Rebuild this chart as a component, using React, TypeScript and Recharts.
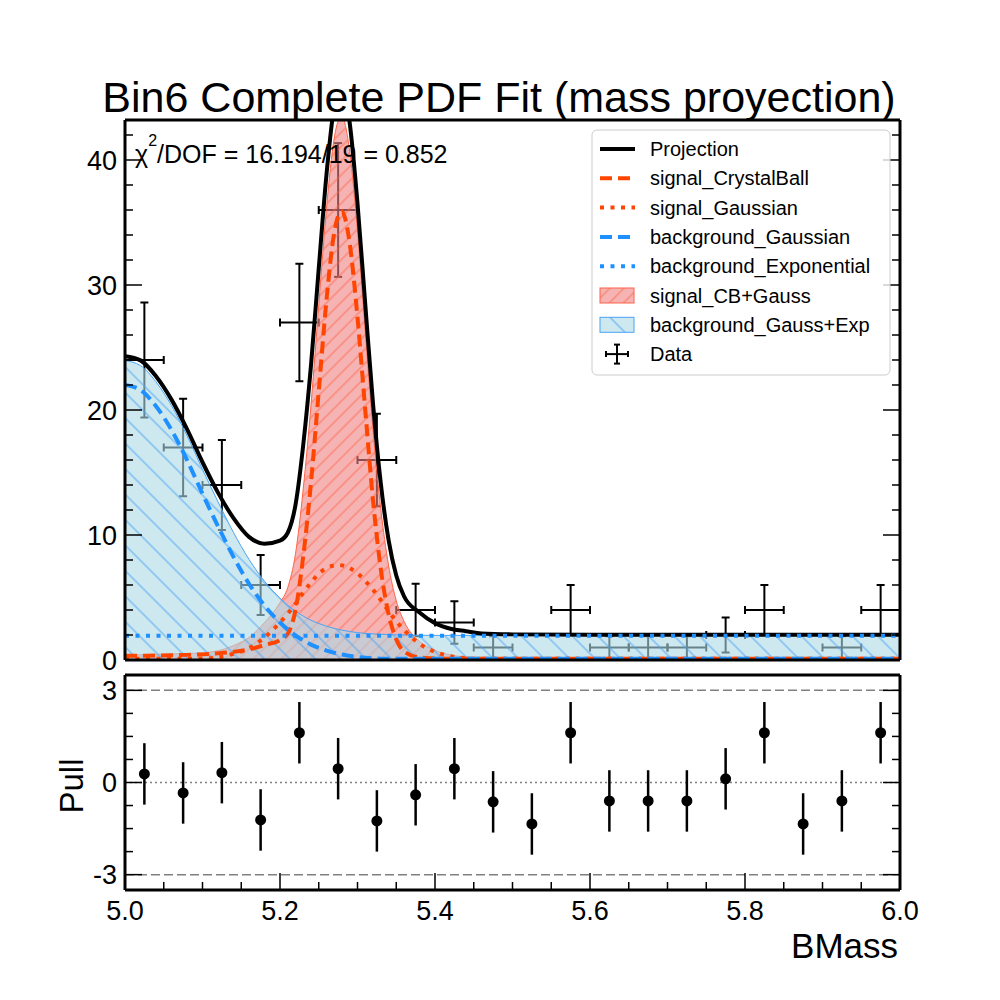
import React from 'react';
import { ComposedChart, Line, Area, Scatter, XAxis, YAxis, ErrorBar, ReferenceLine } from 'recharts';

// sampled curves of the fit (BMass grid)
const massGrid = [
  5.0, 5.02, 5.04, 5.06, 5.08, 5.1, 5.12, 5.14, 5.16, 5.18, 5.2, 5.21, 5.22, 5.23, 5.24, 5.25, 5.26, 5.27, 5.275, 5.28,
  5.285, 5.29, 5.3, 5.31, 5.32, 5.33, 5.34, 5.35, 5.36, 5.38, 5.4, 5.42, 5.44, 5.46, 5.5, 5.6, 5.7, 5.8, 5.9, 6.0,
];
const projection = [
  24.3, 23.97, 22.7, 20.83, 18.47, 15.82, 13.39, 11.35, 9.85, 9.3, 9.55, 10.18, 12.41, 17.21, 23.58, 31.32, 38.85, 44.3, 45.55, 45.86,
  44.92, 42.93, 36.52, 28.46, 20.52, 14.16, 9.63, 6.76, 5.1, 3.8, 2.95, 2.5, 2.3, 2.12, 2.05, 2.02, 2.02, 2.02, 2.02, 2.02,
];
const signalCrystalBall = [
  0.33, 0.34, 0.36, 0.38, 0.41, 0.45, 0.53, 0.65, 0.85, 1.2, 1.6, 2.1, 4.0, 8.3, 14.2, 21.5, 28.8, 34.2, 35.5, 35.9,
  35.1, 33.3, 27.4, 20.0, 12.8, 7.3, 3.7, 1.65, 0.7, 0.2, 0.12, 0.1, 0.1, 0.1, 0.1, 0.1, 0.1, 0.1, 0.1, 0.1,
];
const signalGaussian = [
  0.1, 0.1, 0.1, 0.1, 0.1, 0.12, 0.21, 0.5, 0.95, 1.8, 3.0, 3.7, 4.5, 5.4, 6.2, 6.9, 7.35, 7.57, 7.6, 7.57,
  7.49, 7.35, 6.93, 6.33, 5.63, 4.8, 3.9, 3.1, 2.4, 1.3, 0.65, 0.3, 0.15, 0.1, 0.1, 0.1, 0.1, 0.1, 0.1, 0.1,
];
const backgroundGaussian = [
  22.0, 21.6, 20.3, 18.4, 16.0, 13.3, 10.7, 8.25, 6.1, 4.35, 3.0, 2.43, 1.96, 1.56, 1.23, 0.97, 0.75, 0.58, 0.5, 0.44,
  0.38, 0.33, 0.24, 0.18, 0.14, 0.11, 0.1, 0.1, 0.1, 0.1, 0.1, 0.1, 0.1, 0.1, 0.1, 0.1, 0.1, 0.1, 0.1, 0.1,
];
const backgroundExponential = [
  1.95, 1.95, 1.95, 1.95, 1.95, 1.95, 1.95, 1.95, 1.95, 1.95, 1.95, 1.95, 1.95, 1.95, 1.95, 1.95, 1.95, 1.95, 1.95, 1.95,
  1.95, 1.95, 1.95, 1.95, 1.95, 1.95, 1.95, 1.95, 1.95, 1.95, 1.95, 1.95, 1.95, 1.95, 1.95, 1.95, 1.95, 1.95, 1.95, 1.95,
];
const signalSum = [
  0.4, 0.42, 0.45, 0.48, 0.52, 0.57, 0.74, 1.15, 1.8, 3.0, 4.6, 5.8, 8.5, 13.7, 20.4, 28.4, 36.15, 41.77, 43.1, 43.47,
  42.59, 40.65, 34.33, 26.33, 18.43, 12.1, 7.6, 4.75, 3.1, 1.5, 0.77, 0.4, 0.25, 0.2, 0.2, 0.2, 0.2, 0.2, 0.2, 0.2,
];
const backgroundSum = [
  23.95, 23.55, 22.25, 20.35, 17.95, 15.25, 12.65, 10.2, 8.05, 6.3, 4.95, 4.38, 3.91, 3.51, 3.18, 2.92, 2.7, 2.53, 2.45, 2.39,
  2.33, 2.28, 2.19, 2.13, 2.09, 2.06, 2.03, 2.01, 2.0, 1.98, 1.97, 1.97, 1.97, 1.97, 1.97, 1.97, 1.97, 1.97, 1.97, 1.97,
];

// histogram bins (width 0.05)
const binCenters = [
  5.025, 5.075, 5.125, 5.175, 5.225, 5.275, 5.325, 5.375, 5.425, 5.475,
  5.525, 5.575, 5.625, 5.675, 5.725, 5.775, 5.825, 5.875, 5.925, 5.975,
];
const binCounts = [24, 17, 14, 6, 27, 36, 16, 4, 3, 1, 0, 4, 1, 1, 1, 2, 4, 0, 1, 4];
const binErrors = [4.6, 3.9, 3.6, 2.4, 4.7, 5.35, 3.7, 2.1, 1.7, 0.9, 0, 2.0, 0.9, 0.9, 0.9, 1.4, 2.0, 0, 0.9, 2.0];
const binHalfWidth = 0.025;
const pullValues = [
  0.28, -0.34, 0.32, -1.22, 1.62, 0.45, -1.25, -0.4, 0.45, -0.63,
  -1.35, 1.62, -0.6, -0.6, -0.6, 0.12, 1.62, -1.35, -0.6, 1.62,
];
const pullErrors = [1, 1, 1, 1, 1, 1, 1, 1, 1, 1, 1, 1, 1, 1, 1, 1, 1, 1, 1, 1];

const yTicksTop = [0, 2, 4, 6, 8, 10, 12, 14, 16, 18, 20, 22, 24, 26, 28, 30, 32, 34, 36, 38, 40, 42];
const yTicksPull = [-3, -2.25, -1.5, -0.75, 0, 0.75, 1.5, 2.25, 3];
const xTicks = [
  5.0, 5.05, 5.1, 5.15, 5.2, 5.25, 5.3, 5.35, 5.4, 5.45, 5.5,
  5.55, 5.6, 5.65, 5.7, 5.75, 5.8, 5.85, 5.9, 5.95, 6.0,
];

const legendItems = [
  'Projection',
  'signal_CrystalBall',
  'signal_Gaussian',
  'background_Gaussian',
  'background_Exponential',
  'signal_CB+Gauss',
  'background_Gauss+Exp',
  'Data',
];

const FONT = '"Liberation Sans", Arial, Helvetica, sans-serif';
const RED = '#ff4500';
const BLUE = '#1e90ff';
const DASH = '12 6';
const DOT = '4 6.5';

const curveTable = massGrid.map((m, i) => ({
  m,
  proj: projection[i],
  cb: signalCrystalBall[i],
  sg: signalGaussian[i],
  bg: backgroundGaussian[i],
  be: backgroundExponential[i],
  sig: signalSum[i],
  bkg: backgroundSum[i],
}));

const dataPoints = binCenters
  .map((m, i) => ({ m, n: binCounts[i], err: binErrors[i], xerr: binHalfWidth }))
  .filter((p) => p.n > 0);

const pullPoints = binCenters.map((m, i) => ({ m, pull: pullValues[i], err: pullErrors[i] }));

const isMajor = (v: number, step: number) => Math.abs(v / step - Math.round(v / step)) < 1e-6;

const LeftTick = (props: any) => {
  const { x, y, payload, step } = props;
  const major = isMajor(payload.value, step);
  return (
    <g>
      <line x1={x} y1={y} x2={x + (major ? 17 : 8)} y2={y} stroke="#000" strokeWidth={1.5} />
      {major && (
        <text x={x - 8} y={y} dy="0.36em" textAnchor="end" fontSize={27} fontFamily={FONT} fill="#000">
          {payload.value}
        </text>
      )}
    </g>
  );
};

const RightTick = (props: any) => {
  const { x, y, payload, step } = props;
  const major = isMajor(payload.value, step);
  return <line x1={x} y1={y} x2={x - (major ? 17 : 8)} y2={y} stroke="#000" strokeWidth={1.5} />;
};

const BottomTick = (props: any) => {
  const { x, y, payload } = props;
  const major = isMajor(payload.value, 0.2);
  return (
    <g>
      <line x1={x} y1={y} x2={x} y2={y - (major ? 17 : 8)} stroke="#000" strokeWidth={1.5} />
      {major && (
        <text x={x} y={y + 30} textAnchor="middle" fontSize={27} fontFamily={FONT} fill="#000">
          {payload.value.toFixed(1)}
        </text>
      )}
    </g>
  );
};

const TopTick = (props: any) => {
  const { x, y, payload } = props;
  const major = isMajor(payload.value, 0.2);
  return <line x1={x} y1={y} x2={x} y2={y + (major ? 17 : 8)} stroke="#000" strokeWidth={1.5} />;
};

const frame = { stroke: '#000', strokeWidth: 3 };

const Hatches = ({ prefix }: { prefix: string }) => (
  <defs>
    <pattern id={`${prefix}Sig`} patternUnits="userSpaceOnUse" width={10} height={10} patternTransform="rotate(45)">
      <rect width={10} height={10} fill="#f08080" fillOpacity={0.6} />
      <line x1={5} y1={0} x2={5} y2={10} stroke="#ff6347" strokeWidth={1.1} strokeOpacity={0.75} />
    </pattern>
    <pattern id={`${prefix}Bkg`} patternUnits="userSpaceOnUse" width={18} height={18} patternTransform="rotate(-45)">
      <rect width={18} height={18} fill="#add8e6" fillOpacity={0.6} />
      <line x1={9} y1={0} x2={9} y2={18} stroke="#4aa3f5" strokeWidth={1.1} strokeOpacity={0.85} />
    </pattern>
  </defs>
);

const LegendSample = ({ index, y }: { index: number; y: number }) => {
  const x1 = 600;
  const x2 = 635;
  if (index === 0) return <line x1={x1} y1={y} x2={x2} y2={y} stroke="#000" strokeWidth={4} />;
  if (index === 1) return <line x1={x1} y1={y} x2={x2} y2={y} stroke={RED} strokeWidth={4} strokeDasharray={DASH} />;
  if (index === 2) return <line x1={x1} y1={y} x2={x2} y2={y} stroke={RED} strokeWidth={4} strokeDasharray={DOT} />;
  if (index === 3) return <line x1={x1} y1={y} x2={x2} y2={y} stroke={BLUE} strokeWidth={4} strokeDasharray={DASH} />;
  if (index === 4) return <line x1={x1} y1={y} x2={x2} y2={y} stroke={BLUE} strokeWidth={4} strokeDasharray={DOT} />;
  if (index === 5)
    return <rect x={x1} y={y - 7.5} width={34} height={15} fill="url(#legSig)" stroke="#ff6347" strokeWidth={1} />;
  if (index === 6)
    return <rect x={x1} y={y - 7.5} width={34} height={15} fill="url(#legBkg)" stroke="#4aa3f5" strokeWidth={1} />;
  return (
    <g stroke="#000" strokeWidth={2}>
      <line x1={606} y1={y} x2={628} y2={y} />
      <line x1={617} y1={y - 9.5} x2={617} y2={y + 9.5} />
      <line x1={606} y1={y - 3} x2={606} y2={y + 3} />
      <line x1={628} y1={y - 3} x2={628} y2={y + 3} />
      <line x1={614} y1={y - 9.5} x2={620} y2={y - 9.5} />
      <line x1={614} y1={y + 9.5} x2={620} y2={y + 9.5} />
    </g>
  );
};

export default function App() {
  return (
    <div style={{ position: 'absolute', left: 0, top: 0, width: 1000, height: 1000, background: '#fff', fontFamily: FONT }}>
      {/* main fit panel */}
      <div style={{ position: 'absolute', left: 0, top: 0 }}>
        <ComposedChart width={1000} height={680} data={curveTable} margin={{ top: 119, right: 99, bottom: 19, left: 124 }}>
          <Hatches prefix="fit" />
          <XAxis xAxisId="x" dataKey="m" type="number" domain={[5, 6]} allowDataOverflow height={1} tick={false} tickLine={false} axisLine={frame} />
          <XAxis xAxisId="xt" orientation="top" type="number" domain={[5, 6]} allowDataOverflow height={1} tick={false} tickLine={false} axisLine={frame} />
          <YAxis
            yAxisId="y"
            dataKey="n"
            type="number"
            domain={[0, 43.2]}
            allowDataOverflow
            width={1}
            ticks={yTicksTop}
            interval={0}
            tickSize={0}
            tickMargin={0}
            tickLine={false}
            axisLine={frame}
            tick={<LeftTick step={10} />}
          />
          <YAxis
            yAxisId="yr"
            orientation="right"
            type="number"
            domain={[0, 43.2]}
            allowDataOverflow
            width={1}
            ticks={yTicksTop}
            interval={0}
            tickSize={0}
            tickMargin={0}
            tickLine={false}
            axisLine={frame}
            tick={<RightTick step={10} />}
          />
          <Scatter
            xAxisId="x"
            yAxisId="y"
            data={dataPoints}
            dataKey="n"
            shape={() => <g />}
            isAnimationActive={false}
            zIndex={50}
          >
            <ErrorBar dataKey="err" direction="y" width={4} stroke="#000" strokeWidth={2} zIndex={50} />
            <ErrorBar dataKey="xerr" direction="x" width={4} stroke="#000" strokeWidth={2} zIndex={50} />
          </Scatter>
          <Area xAxisId="x" yAxisId="y" dataKey="sig" type="monotone" fill="url(#fitSig)" fillOpacity={1} stroke="#ff6347" strokeWidth={1} isAnimationActive={false} />
          <Area xAxisId="x" yAxisId="y" dataKey="bkg" type="monotone" fill="url(#fitBkg)" fillOpacity={1} stroke="#4aa3f5" strokeWidth={1} isAnimationActive={false} />
          <Line xAxisId="x" yAxisId="y" dataKey="proj" type="monotone" stroke="#000" strokeWidth={4} dot={false} isAnimationActive={false} />
          <Line xAxisId="x" yAxisId="y" dataKey="cb" type="monotone" stroke={RED} strokeWidth={4} strokeDasharray={DASH} dot={false} isAnimationActive={false} />
          <Line xAxisId="x" yAxisId="y" dataKey="sg" type="monotone" stroke={RED} strokeWidth={4} strokeDasharray={DOT} dot={false} isAnimationActive={false} />
          <Line xAxisId="x" yAxisId="y" dataKey="bg" type="monotone" stroke={BLUE} strokeWidth={4} strokeDasharray={DASH} dot={false} isAnimationActive={false} />
          <Line xAxisId="x" yAxisId="y" dataKey="be" type="monotone" stroke={BLUE} strokeWidth={4} strokeDasharray={DOT} dot={false} isAnimationActive={false} />
        </ComposedChart>
      </div>

      {/* pull panel */}
      <div style={{ position: 'absolute', left: 0, top: 660 }}>
        <ComposedChart width={1000} height={300} margin={{ top: 14, right: 99, bottom: 69, left: 124 }}>
          <XAxis
            xAxisId="x"
            dataKey="m"
            type="number"
            domain={[5, 6]}
            allowDataOverflow
            height={1}
            ticks={xTicks}
            interval={0}
            tickSize={0}
            tickMargin={0}
            tickLine={false}
            axisLine={frame}
            tick={<BottomTick />}
          />
          <XAxis
            xAxisId="xt"
            orientation="top"
            type="number"
            domain={[5, 6]}
            allowDataOverflow
            height={1}
            ticks={xTicks}
            interval={0}
            tickSize={0}
            tickMargin={0}
            tickLine={false}
            axisLine={frame}
            tick={<TopTick />}
          />
          <YAxis
            yAxisId="y"
            dataKey="pull"
            type="number"
            domain={[-3.5, 3.5]}
            allowDataOverflow
            width={1}
            ticks={yTicksPull}
            interval={0}
            tickSize={0}
            tickMargin={0}
            tickLine={false}
            axisLine={frame}
            tick={<LeftTick step={3} />}
          />
          <YAxis
            yAxisId="yr"
            orientation="right"
            type="number"
            domain={[-3.5, 3.5]}
            allowDataOverflow
            width={1}
            ticks={yTicksPull}
            interval={0}
            tickSize={0}
            tickMargin={0}
            tickLine={false}
            axisLine={frame}
            tick={<RightTick step={3} />}
          />
          <ReferenceLine xAxisId="x" yAxisId="y" y={3} stroke="#808080" strokeWidth={1.5} strokeDasharray="9 4" />
          <ReferenceLine xAxisId="x" yAxisId="y" y={-3} stroke="#808080" strokeWidth={1.5} strokeDasharray="9 4" />
          <ReferenceLine xAxisId="x" yAxisId="y" y={0} stroke="#808080" strokeWidth={1.5} strokeDasharray="2 3" />
          <Scatter
            xAxisId="x"
            yAxisId="y"
            data={pullPoints}
            dataKey="pull"
            shape={(p: any) => <circle cx={p.cx} cy={p.cy} r={5.5} fill="#000" />}
            isAnimationActive={false}
          >
            <ErrorBar dataKey="err" direction="y" width={0} stroke="#000" strokeWidth={2.5} />
          </Scatter>
        </ComposedChart>
      </div>

      {/* texts and legend */}
      <svg width={1000} height={1000} style={{ position: 'absolute', left: 0, top: 0, pointerEvents: 'none' }}>
        <Hatches prefix="leg" />
        <text x={499} y={112} textAnchor="middle" fontSize={43} fontFamily={FONT} fill="#000">
          Bin6 Complete PDF Fit (mass proyection)
        </text>
        <text x={135} y={163} fontSize={25} fontFamily={FONT} fill="#000">
          χ
          <tspan dy={-17} fontSize={16}>2</tspan>
          <tspan dy={17}>/DOF = 16.194/19 = 0.852</tspan>
        </text>
        <text transform="translate(83,786) rotate(-90)" textAnchor="middle" fontSize={33} fontFamily={FONT} fill="#000">
          Pull
        </text>
        <text x={898} y={958} textAnchor="end" fontSize={35} fontFamily={FONT} fill="#000">
          BMass
        </text>
        <rect x={592} y={130} width={298} height={245} rx={5} fill="#fff" fillOpacity={0.8} stroke="#cccccc" strokeWidth={1} />
        {legendItems.map((label, i) => {
          const y = 149 + i * 29.3;
          return (
            <g key={label}>
              <LegendSample index={i} y={y} />
              <text x={650} y={y + 7} fontSize={20} fontFamily={FONT} fill="#000">
                {label}
              </text>
            </g>
          );
        })}
      </svg>
    </div>
  );
}
